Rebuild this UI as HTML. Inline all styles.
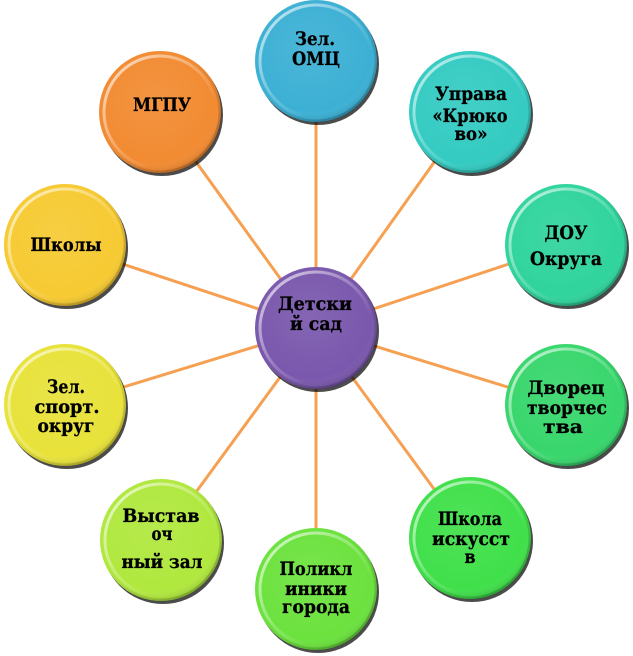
<!DOCTYPE html>
<html><head><meta charset="utf-8"><style>
html,body{margin:0;padding:0;background:#fff;}
svg{display:block;}
text{font-family:"DejaVu Serif","Liberation Serif",serif;font-weight:bold;font-size:18.5px;fill:#000;stroke:#000;stroke-width:0.3px;}
</style></head><body>
<svg width="633" height="656" viewBox="0 0 633 656" xmlns="http://www.w3.org/2000/svg">
<defs>
  <linearGradient id="rim" x1="0" y1="0" x2="1" y2="1">
    <stop offset="0" stop-color="#fff" stop-opacity="0.75"/>
    <stop offset="0.45" stop-color="#fff" stop-opacity="0.25"/>
    <stop offset="0.7" stop-color="#fff" stop-opacity="0"/>
  </linearGradient>
  <linearGradient id="rimdark" x1="0" y1="0" x2="1" y2="1">
    <stop offset="0.4" stop-color="#000" stop-opacity="0"/>
    <stop offset="1" stop-color="#000" stop-opacity="0.25"/>
  </linearGradient>
  <radialGradient id="body" cx="0.45" cy="0.4" r="0.6">
    <stop offset="0" stop-color="#fff" stop-opacity="0.08"/>
    <stop offset="0.85" stop-color="#fff" stop-opacity="0"/>
    <stop offset="1" stop-color="#000" stop-opacity="0.12"/>
  </radialGradient>
  <g id="deco">
    <circle r="61" fill="url(#body)"/>
    <circle r="56" fill="none" stroke="url(#rim)" stroke-width="3"/>
    <circle r="60" fill="none" stroke="url(#rimdark)" stroke-width="3"/>
  </g>
</defs>

<g stroke="#f5a052" stroke-width="3" stroke-linecap="round">
  <line x1="316" y1="328" x2="316" y2="61"/>
  <line x1="316" y1="328" x2="470" y2="112"/>
  <line x1="316" y1="328" x2="566" y2="245"/>
  <line x1="316" y1="328" x2="566" y2="405"/>
  <line x1="316" y1="328" x2="470" y2="538"/>
  <line x1="316" y1="328" x2="316" y2="589"/>
  <line x1="316" y1="328" x2="161" y2="540"/>
  <line x1="316" y1="328" x2="65" y2="405"/>
  <line x1="316" y1="328" x2="65" y2="245"/>
  <line x1="316" y1="328" x2="160" y2="112"/>
</g>

<!-- shadows -->
<g fill="#000" opacity="0.7">
  <circle cx="318" cy="331" r="61"/>
  <circle cx="318" cy="64" r="61"/>
  <circle cx="472" cy="115" r="61"/>
  <circle cx="568" cy="248" r="61"/>
  <circle cx="568" cy="408" r="61"/>
  <circle cx="472" cy="541" r="61"/>
  <circle cx="318" cy="592" r="61"/>
  <circle cx="163" cy="543" r="61"/>
  <circle cx="67" cy="408" r="61"/>
  <circle cx="67" cy="248" r="61"/>
  <circle cx="162" cy="115" r="61"/>
</g>

<!-- circles -->
<circle cx="316" cy="328" r="61" fill="#7a58ad"/><use href="#deco" x="316" y="328"/>
<circle cx="316" cy="61" r="61" fill="#3cb0d4"/><use href="#deco" x="316" y="61"/>
<circle cx="470" cy="112" r="61" fill="#34cbc2"/><use href="#deco" x="470" y="112"/>
<circle cx="566" cy="245" r="61" fill="#30d49c"/><use href="#deco" x="566" y="245"/>
<circle cx="566" cy="405" r="61" fill="#38d66c"/><use href="#deco" x="566" y="405"/>
<circle cx="470" cy="538" r="61" fill="#40e04a"/><use href="#deco" x="470" y="538"/>
<circle cx="316" cy="589" r="61" fill="#6ce23e"/><use href="#deco" x="316" y="589"/>
<circle cx="161" cy="540" r="61" fill="#b0e83e"/><use href="#deco" x="161" y="540"/>
<circle cx="65" cy="405" r="61" fill="#e8e23a"/><use href="#deco" x="65" y="405"/>
<circle cx="65" cy="245" r="61" fill="#f6ca32"/><use href="#deco" x="65" y="245"/>
<circle cx="160" cy="112" r="61" fill="#f28b32"/><use href="#deco" x="160" y="112"/>

<!-- labels -->
<g text-anchor="middle">
  <text x="315" y="310" textLength="74" lengthAdjust="spacingAndGlyphs">Детски</text>
  <text x="316" y="330" textLength="52" lengthAdjust="spacingAndGlyphs">й сад</text>

  <text x="315" y="45" textLength="40" lengthAdjust="spacingAndGlyphs">Зел.</text>
  <text x="316" y="65" textLength="48" lengthAdjust="spacingAndGlyphs">ОМЦ</text>

  <text x="471" y="100" textLength="72" lengthAdjust="spacingAndGlyphs">Управа</text>
  <text x="470" y="122" textLength="75" lengthAdjust="spacingAndGlyphs">«Крюко</text>
  <text x="471" y="140" textLength="33" lengthAdjust="spacingAndGlyphs">во»</text>

  <text x="566" y="239" textLength="43" lengthAdjust="spacingAndGlyphs">ДОУ</text>
  <text x="566" y="265" textLength="72" lengthAdjust="spacingAndGlyphs">Округа</text>

  <text x="566" y="394" textLength="77" lengthAdjust="spacingAndGlyphs">Дворец</text>
  <text x="567" y="414" textLength="80" lengthAdjust="spacingAndGlyphs">творчес</text>
  <text x="563" y="433" textLength="40" lengthAdjust="spacingAndGlyphs">тва</text>

  <text x="470" y="525" textLength="64" lengthAdjust="spacingAndGlyphs">Школа</text>
  <text x="471" y="545" textLength="78" lengthAdjust="spacingAndGlyphs">искусст</text>
  <text x="470" y="563" textLength="11" lengthAdjust="spacingAndGlyphs">в</text>

  <text x="316" y="575" textLength="73" lengthAdjust="spacingAndGlyphs">Поликл</text>
  <text x="316" y="595" textLength="62" lengthAdjust="spacingAndGlyphs">иники</text>
  <text x="316" y="613" textLength="68" lengthAdjust="spacingAndGlyphs">города</text>

  <text x="161" y="522" textLength="77" lengthAdjust="spacingAndGlyphs">Выстав</text>
  <text x="162" y="540" textLength="21" lengthAdjust="spacingAndGlyphs">оч</text>
  <text x="162" y="568" textLength="81" lengthAdjust="spacingAndGlyphs">ный зал</text>

  <text x="66" y="393" textLength="38" lengthAdjust="spacingAndGlyphs">Зел.</text>
  <text x="67" y="413" textLength="65" lengthAdjust="spacingAndGlyphs">спорт.</text>
  <text x="66" y="432" textLength="57" lengthAdjust="spacingAndGlyphs">округ</text>

  <text x="66" y="251" textLength="71" lengthAdjust="spacingAndGlyphs">Школы</text>

  <text x="162" y="111" textLength="58" lengthAdjust="spacingAndGlyphs">МГПУ</text>
</g>
</svg>
</body></html>
